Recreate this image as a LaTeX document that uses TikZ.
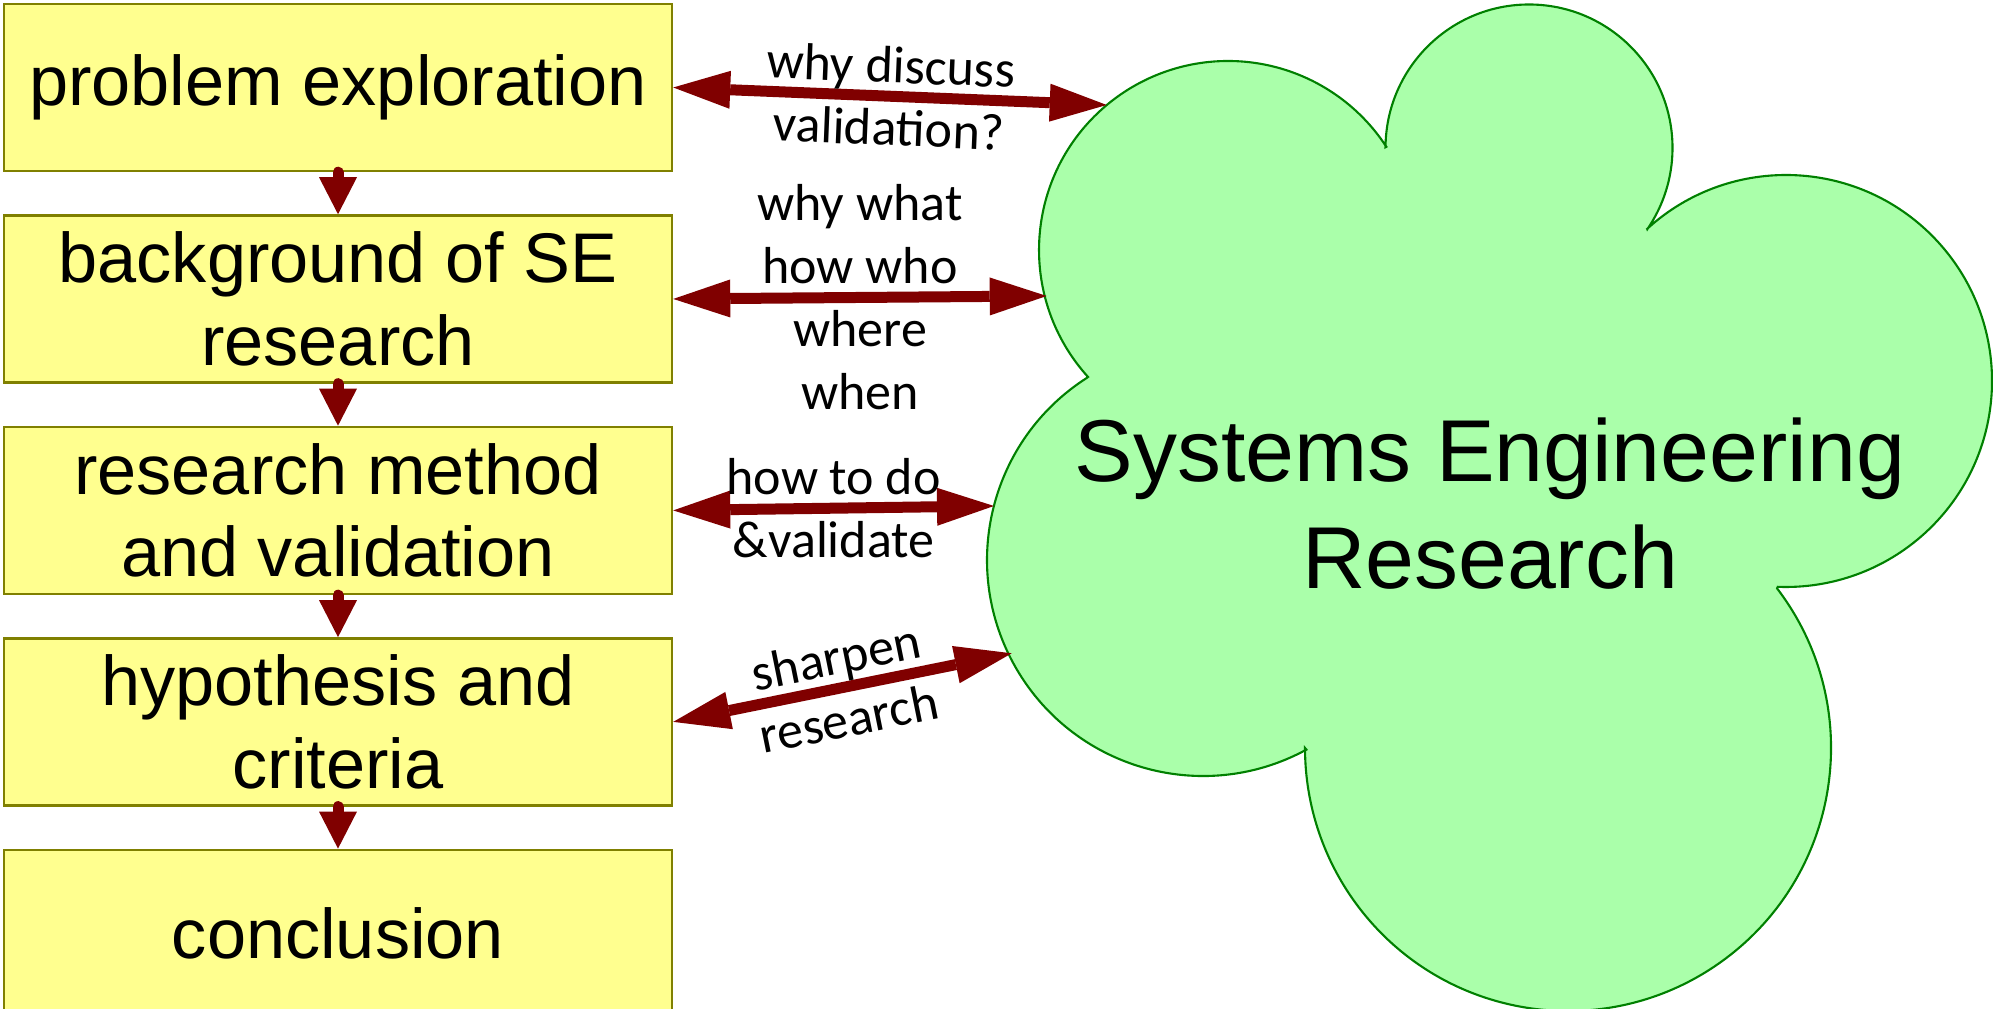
\documentclass[tikz,border=0pt]{standalone}
\usepackage{fontspec}
\setmainfont{Liberation Sans}
\newfontfamily\notefont{Carlito}
\usetikzlibrary{arrows.meta,positioning}
\colorlet{arrowcol}{red!50!black}
\definecolor{boxfill}{RGB}{255,255,143}
\definecolor{boxline}{RGB}{128,128,0}
\definecolor{cloudfill}{RGB}{170,255,170}
\definecolor{cloudline}{RGB}{0,128,0}
\tikzset{
  stage/.style={draw=boxline, fill=boxfill, line width=0.7pt, minimum width=6.68cm,
    minimum height=1.67cm, inner sep=2pt, align=center, font=\fontsize{20}{23.5}\selectfont},
  flow/.style={draw=arrowcol, line width=0.11cm, line cap=round,
    -{Triangle[length=3.7mm,width=3.8mm,line width=0pt]}},
  link/.style={draw=arrowcol, line width=0.11cm,
    {Triangle[length=5.7mm,width=3.8mm,line width=0pt]}-{Triangle[length=5.7mm,width=3.8mm,line width=0pt]}},
  note/.style={font=\notefont\fontsize{14.8}{17.9}\selectfont, align=center, text=black}
}
\begin{document}
\begin{tikzpicture}
    \useasboundingbox (0,0) rectangle (19.93,10.08);

    \draw[draw=cloudline, fill=cloudfill, line width=0.6pt]
        ([shift={(222.2:1.89)}]12.28,7.58) arc[start angle=222.2, end angle=33.1, radius=1.89]
        -- ([shift={(179.7:1.435)}]15.29,8.60) arc[start angle=179.7, end angle=-34.5, radius=1.435]
        -- ([shift={(132.4:2.06)}]17.86,6.27) arc[start angle=132.4, end angle=-92.3, radius=2.06]
        -- ([shift={(37.35:2.63)}]15.68,2.60) arc[start angle=37.35, end angle=-180, radius=2.63]
        -- ([shift={(-61.4:2.16)}]12.03,4.48) arc[start angle=-61.4, end angle=-237.4, radius=2.16]
        -- cycle;
    \node[font=\fontsize{25}{30.5}\selectfont, align=center] (ser) at (14.90,5.04) {Systems Engineering\\Research};

    \coordinate (c1) at (11.067,9.03);
    \coordinate (c2) at (10.467,7.12);
    \coordinate (c3) at (9.94,5.02);
    \coordinate (c4) at (10.117,3.547);

    \node[stage] (prob) at (3.38,9.205) {problem exploration};
    \node[stage, below=0.42cm of prob] (bg) {background of SE\\research};
    \node[stage, below=0.42cm of bg] (meth) {research method\\and validation};
    \node[stage, below=0.42cm of meth] (hyp) {hypothesis and\\criteria};
    \node[stage, below=0.42cm of hyp] (concl) {conclusion};

    \draw[flow] (prob.south) -- (bg.north);
    \draw[flow] (bg.south) -- (meth.north);
    \draw[flow] (meth.south) -- (hyp.north);
    \draw[flow] (hyp.south) -- (concl.north);

    \draw[link] (prob.east) -- (c1) node[note, midway, sloped] (l1) {why discuss\\validation?};
    \draw[link] (bg.east) -- (c2) node[note, midway] (l2) {why what\\how who\\where\\when};
    \draw[link] (meth.east) -- (c3) node[note, midway] (l3) {how to do\\\&validate};
    \draw[link] (hyp.east) -- (c4) node[note, midway, sloped] (l4) {sharpen\\research};
\end{tikzpicture}
\end{document}
